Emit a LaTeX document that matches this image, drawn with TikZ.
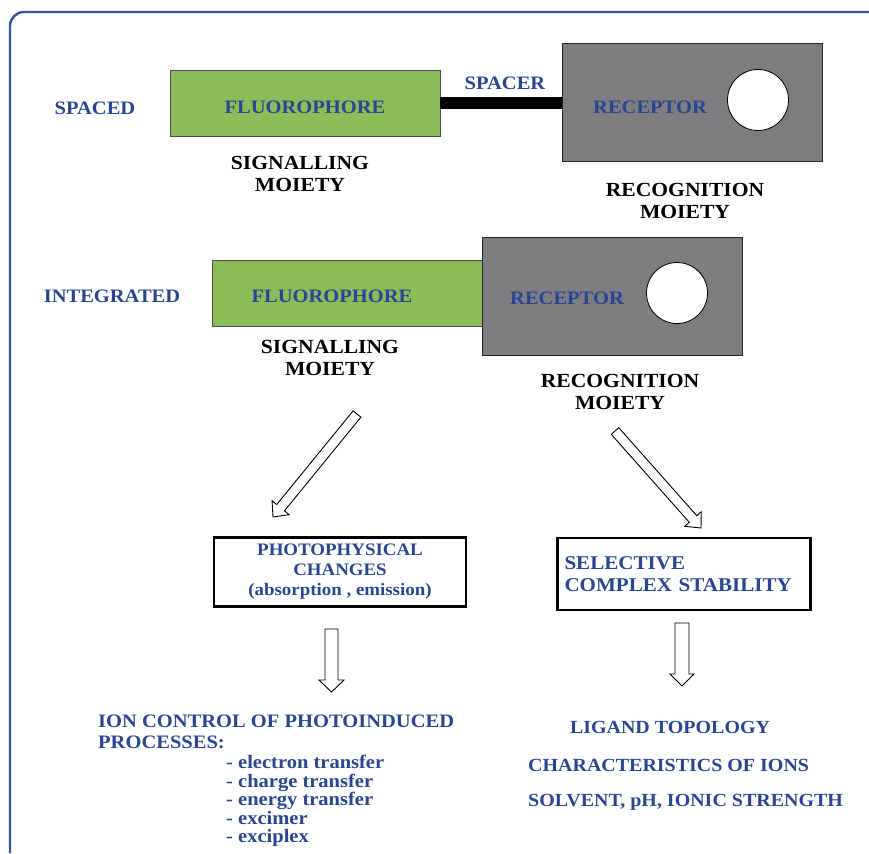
\documentclass[tikz,border=0pt]{standalone}
\usepackage{fontspec}
\setmainfont{Liberation Serif}[FakeStretch=1.08]
\usetikzlibrary{calc}

\definecolor{labelblue}{RGB}{40,70,150}
\definecolor{frameblue}{RGB}{50,85,165}
\definecolor{fluorgreen}{RGB}{140,188,88}
\definecolor{recgray}{RGB}{125,125,127}

\begin{document}
\begin{tikzpicture}[x=1pt,y=-1pt]
        \tikzset{blue label/.style={text=labelblue, inner sep=0pt, font=\bfseries\fontsize{19}{21}\selectfont},
                 black label/.style={inner sep=0pt, align=center, font=\bfseries\fontsize{20}{22}\selectfont},
                 fluor box/.style={draw=black!70, fill=fluorgreen, line width=0.8pt, minimum height=66pt},
                 rec box/.style={draw=black!85, fill=recgray, line width=1pt, minimum width=260pt, minimum height=118pt},
                 hole/.style={circle, draw=black, fill=white, line width=0.8pt, minimum size=61pt, inner sep=0pt},
                 result box/.style={draw=black, fill=white, line width=2.4pt, text=labelblue},
                 hollow arrow/.style={draw=black, fill=white, line width=0.9pt}}

        \useasboundingbox (0,0) rectangle (869,853);
        \draw[frameblue, line width=2.4pt, rounded corners=14pt] (10,853) -- (10,12) -- (869,12);

        % spaced
        \node[fluor box, minimum width=270pt] (fluor1) at (305,103) {};
        \node[rec box] (rec1) at (692,103) {};
        \draw[line width=12pt] (fluor1.east) -- (rec1.west);
        \node[blue label] (fluor1txt) at (305,107) {FLUOROPHORE};
        \node[blue label] (rec1txt) at (650,107) {RECEPTOR};
        \node[hole] (hole1) at (758,100) {};
        \node[blue label] (spaced) at (95,108) {SPACED};
        \node[blue label] (spacer) at (505,83) {SPACER};
        \node[black label] (sig1) at (300,174) {SIGNALLING\\MOIETY};
        \node[black label] (recog1) at (685,201) {RECOGNITION\\MOIETY};

        % integrated
        \node[fluor box, minimum width=275pt] (fluor2) at (350,293) {};
        \node[rec box] (rec2) at (612,296) {};
        \node[blue label] (fluor2txt) at (332,296) {FLUOROPHORE};
        \node[blue label] (rec2txt) at (567,298) {RECEPTOR};
        \node[hole] (hole2) at (677,293) {};
        \node[blue label] (integ) at (112,296) {INTEGRATED};
        \node[black label] (sig2) at (330,358) {SIGNALLING\\MOIETY};
        \node[black label] (recog2) at (620,392) {RECOGNITION\\MOIETY};

        % consequences
        \node[result box, minimum width=252pt, minimum height=69pt, align=center,
              font=\bfseries\fontsize{17.5}{20}\selectfont] (photo) at (340,572)
              {PHOTOPHYSICAL\\CHANGES\\(absorption , emission)};
        \node[result box, minimum width=253pt, minimum height=72pt, inner xsep=7pt, text width=239pt,
              align=left, font=\bfseries\fontsize{19.5}{22}\selectfont] (select) at (684,574)
              {SELECTIVE\\COMPLEX STABILITY};

        \coordinate (d1s) at (357,414);
        \coordinate (d1e) at (273,517);
        \coordinate (d2s) at (615,431);
        \coordinate (d2e) at (701,528);
        \coordinate (v1s) at (331.5,629);
        \coordinate (v1e) at (331.5,692);
        \coordinate (v2s) at (682,623);
        \coordinate (v2e) at (682,686);
        \foreach \s/\e/\w/\hw in {d1s/d1e/5/11, d2s/d2e/5/11, v1s/v1e/6.5/12.5, v2s/v2e/7/12}
            \draw[hollow arrow] ($(\s)!\w pt!90:(\e)$) -- ($(\e)!12pt!(\s)!\w pt!-90:(\s)$)
                -- ($(\e)!12pt!(\s)!\hw pt!-90:(\s)$) -- (\e) -- ($(\e)!12pt!(\s)!\hw pt!90:(\s)$)
                -- ($(\e)!12pt!(\s)!\w pt!90:(\s)$) -- ($(\s)!\w pt!-90:(\e)$) -- cycle;

        \node[blue label, anchor=west, align=left] (ion) at (98,732) {ION CONTROL OF PHOTOINDUCED\\PROCESSES:};
        \node[blue label, anchor=north west, align=left, font=\bfseries\fontsize{19}{18.5}\selectfont] (procs) at (226,755)
            {- electron transfer\\- charge transfer\\- energy transfer\\- excimer\\- exciplex};

        \node[blue label, font=\bfseries\fontsize{18.5}{20}\selectfont] (ligand) at (670,727) {LIGAND TOPOLOGY};
        \node[blue label, anchor=west, font=\bfseries\fontsize{18.5}{20}\selectfont] (charac) at (528,765) {CHARACTERISTICS OF IONS};
        \node[blue label, anchor=west, font=\bfseries\fontsize{18.5}{20}\selectfont] (solvent) at (528,802) {SOLVENT, pH, IONIC STRENGTH};
    \end{tikzpicture}
\end{document}
